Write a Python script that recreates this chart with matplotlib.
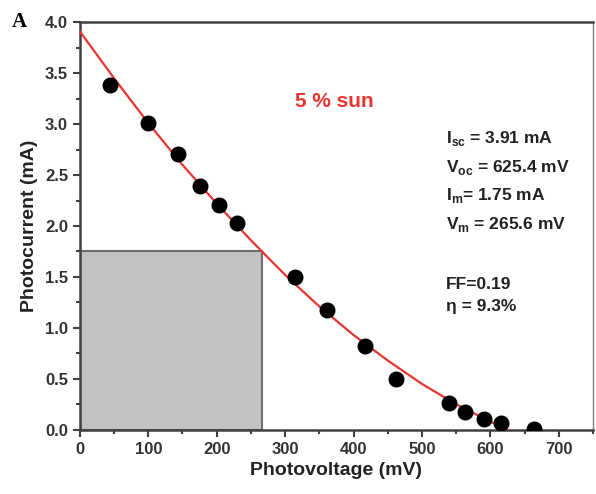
import matplotlib.pyplot as plt
from matplotlib.patches import Rectangle
from matplotlib.ticker import MultipleLocator

# measured points
volt = [44, 99, 143, 175, 203, 230, 315, 361, 417, 462, 540, 563, 591, 616, 664]
curr = [3.38, 3.01, 2.71, 2.39, 2.21, 2.03, 1.50, 1.18, 0.82, 0.50, 0.26, 0.17, 0.11, 0.07, 0.01]

# fitted curve
fit_v = [0, 50, 100, 150, 200, 250, 300, 350, 400, 450, 500, 550, 600, 625]
fit_i = [3.91, 3.45, 3.01, 2.60, 2.22, 1.86, 1.52, 1.21, 0.93, 0.68, 0.45, 0.25, 0.08, 0.0]

# max power point
v_m = 265.6
i_m = 1.75

stats = [r'I$_{\mathbf{sc}}$ = 3.91 mA',
         r'V$_{\mathbf{oc}}$ = 625.4 mV',
         r'I$_{\mathbf{m}}$= 1.75 mA',
         r'V$_{\mathbf{m}}$ = 265.6 mV']
perf = ['FF=0.19', 'η = 9.3%']

plt.rcParams['font.family'] = ['Liberation Sans', 'DejaVu Sans']
plt.rcParams['font.weight'] = 'bold'
plt.rcParams['mathtext.fontset'] = 'custom'
plt.rcParams['mathtext.rm'] = 'Liberation Sans:bold'
plt.rcParams['mathtext.bf'] = 'Liberation Sans:bold'

fig = plt.figure(figsize=(5.96, 4.94), dpi=100)
ax = fig.add_axes([0.134, 0.13, 0.861, 0.825])

ax.add_patch(Rectangle((0, 0), v_m, i_m, facecolor='#c2c2c2', edgecolor='#6e6e6e', linewidth=1.5, zorder=1))
ax.plot(fit_v, fit_i, color='#e8352f', linewidth=1.6, zorder=3)
ax.plot(volt, curr, 'o', color='black', markersize=10.5, zorder=4)

ax.set_xlim(0, 750)
ax.set_ylim(0, 4.0)
ax.xaxis.set_major_locator(MultipleLocator(100))
ax.xaxis.set_minor_locator(MultipleLocator(50))
ax.yaxis.set_major_locator(MultipleLocator(0.5))
ax.yaxis.set_minor_locator(MultipleLocator(0.25))
ax.set_xticks(range(0, 701, 100))
ax.tick_params(which='major', direction='out', length=5, width=1.5, color='#404040', labelsize=12)
ax.tick_params(which='minor', direction='out', length=3, width=1.5, color='#404040')
for lab in ax.get_xticklabels() + ax.get_yticklabels():
    lab.set_fontweight('bold')
    lab.set_color('#333333')
for s in ax.spines.values():
    s.set_linewidth(1.8)
    s.set_color('#404040')
ax.spines['right'].set_linewidth(1.0)
ax.spines['right'].set_color('#808080')

ax.set_xlabel('Photovoltage (mV)', fontsize=14, fontweight='bold', color='#222222', labelpad=4)
ax.set_ylabel('Photocurrent (mA)', fontsize=14, fontweight='bold', color='#222222', labelpad=5)

ax.text(372, 3.22, '5 % sun', color='#e8352f', fontsize=15, fontweight='bold', ha='center', va='center')
ax.text(535, 2.95, '\n'.join(stats), fontsize=12.5, fontweight='bold', color='#222222',
        ha='left', va='top', linespacing=1.68)
ax.text(535, 1.32, '\n'.join(perf), fontsize=12.5, fontweight='bold', color='#222222',
        ha='left', va='center', linespacing=1.55)

fig.text(0.033, 0.955, 'A', fontsize=15, fontweight='bold', family='Liberation Serif', va='center', ha='center')

fig.savefig('out.png', dpi=100)
